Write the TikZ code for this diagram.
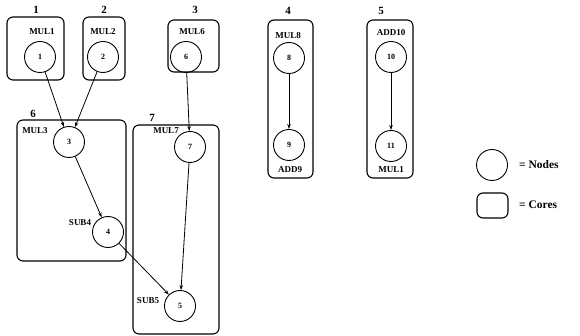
\documentclass[tikz,border=0pt]{standalone}
\usepackage{fontspec}
\setmainfont{Liberation Serif}
\usetikzlibrary{arrows.meta,positioning}

\tikzset{
  core/.style={draw, rounded corners=6pt, line width=1.1pt, inner sep=0pt},
  opnode/.style={draw, circle, minimum size=31pt, inner sep=0pt, line width=0.9pt,
                 font=\fontsize{8}{9}\selectfont\bfseries},
  oplabel/.style={font=\fontsize{9}{10}\selectfont\bfseries, inner sep=0pt},
  corenum/.style={font=\fontsize{11}{13}\selectfont\bfseries, inner sep=0pt},
  legtext/.style={font=\fontsize{11.5}{13}\selectfont\bfseries, inner sep=0pt, anchor=west},
  dep/.style={-{Stealth[length=5pt,width=3.5pt]}, line width=0.8pt}
}

\begin{document}
\begin{tikzpicture}[x=1pt, y=-1pt]
  \useasboundingbox (0,0) rectangle (580,336);

  \node[core, minimum width=57pt, minimum height=63pt] (core1) at (35.5,48.5) {};
  \node[core, minimum width=42pt, minimum height=63pt] (core2) at (104,48.5) {};
  \node[core, minimum width=51pt, minimum height=52pt] (core3) at (193.5,46) {};
  \node[core, minimum width=45pt, minimum height=158pt] (core4) at (290.5,99) {};
  \node[core, minimum width=46pt, minimum height=158pt] (core5) at (390,99) {};
  \node[core, minimum width=109pt, minimum height=141pt] (core6) at (71.5,190.5) {};
  \node[core, minimum width=86pt, minimum height=209pt] (core7) at (176,229.5) {};

  \node[corenum] (num1) at (36,10) {1};
  \node[corenum] (num2) at (104,10) {2};
  \node[corenum] (num3) at (195,10) {3};
  \node[corenum] (num4) at (288,11) {4};
  \node[corenum] (num5) at (381,11) {5};
  \node[corenum] (num6) at (33,114) {6};
  \node[corenum] (num7) at (152,118) {7};

  \node[opnode] (n1) at (40,57) {1};
  \node[opnode] (n2) at (103,57) {2};
  \node[opnode] (n6) at (186,57) {6};
  \node[opnode] (n8) at (289,58) {8};
  \node[opnode] (n10) at (391,57) {10};
  \node[opnode] (n9) at (289,145) {9};
  \node[opnode] (n11) at (391,146) {11};
  \node[opnode] (n3) at (69,142) {3};
  \node[opnode] (n7) at (190,147) {7};
  \node[opnode] (n4) at (108,232) {4};
  \node[opnode] (n5) at (180,306) {5};

  \node[oplabel] (lab1) at (42,32) {MUL1};
  \node[oplabel] (lab2) at (103,32) {MUL2};
  \node[oplabel] (lab6) at (192,32) {MUL6};
  \node[oplabel] (lab8) at (288,36) {MUL8};
  \node[oplabel] (lab10) at (391,33) {ADD10};
  \node[oplabel] (lab9) at (290,170) {ADD9};
  \node[oplabel] (lab11) at (391,170) {MUL1};
  \node[oplabel] (lab3) at (35,131) {MUL3};
  \node[oplabel] (lab7) at (166,131) {MUL7};
  \node[oplabel] (lab4) at (80,223) {SUB4};
  \node[oplabel] (lab5) at (148,301) {SUB5};

  \draw[dep] (n1) -- (n3);
  \draw[dep] (n2) -- (n3);
  \draw[dep] (n3) -- (n4);
  \draw[dep] (n4) -- (n5);
  \draw[dep] (n6) -- (n7);
  \draw[dep] (n7) -- (n5);
  \draw[dep] (n8) -- (n9);
  \draw[dep] (n10) -- (n11);

  \node[opnode] (legnode) at (492,165) {};
  \node[legtext] (legnodetext) at (519,165) {= Nodes};
  \node[core, minimum width=31pt, minimum height=25pt] (legcore) at (492.5,205.5) {};
  \node[legtext] (legcoretext) at (519,205) {= Cores};
\end{tikzpicture}
\end{document}
